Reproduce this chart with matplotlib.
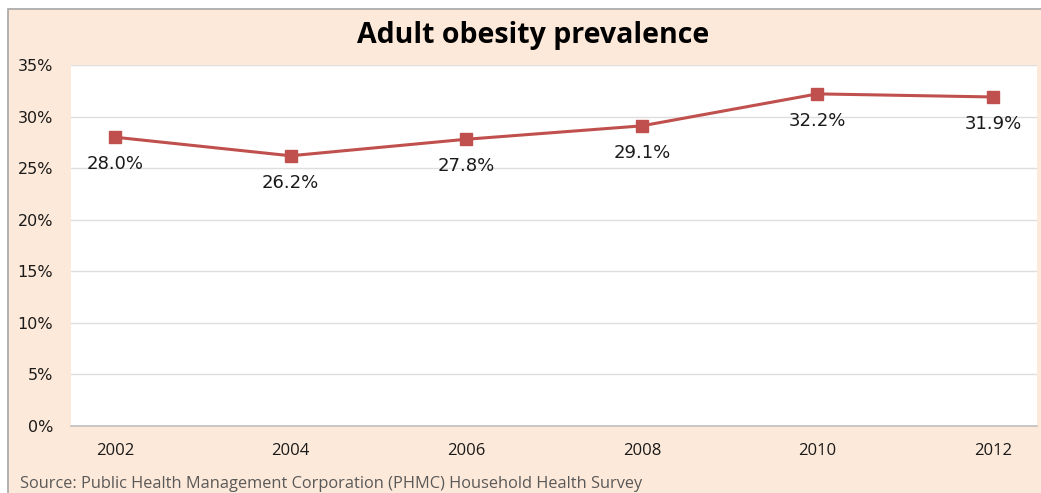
import matplotlib.pyplot as plt
from matplotlib.patches import Rectangle

# Adult obesity prevalence by survey year
years = ['2002', '2004', '2006', '2008', '2010', '2012']
prevalence = [28.0, 26.2, 27.8, 29.1, 32.2, 31.9]
y_ticks = [0, 5, 10, 15, 20, 25, 30, 35]

W, H = 1041, 493
fig = plt.figure(figsize=(W / 100, H / 100), dpi=100)
fig.patch.set_facecolor('white')

# peach chart area with a thin grey frame on the left/top
fig.patches.append(Rectangle((8 / W, -0.05), 1.1, (H - 9) / H + 0.05,
                             transform=fig.transFigure, facecolor='#FDE9D9',
                             edgecolor='#A6A6A6', linewidth=1.2, zorder=-10))

ax = fig.add_axes([71 / W, (H - 426) / H, (1037 - 71) / W, (426 - 65) / H])
ax.set_zorder(5)
ax.set_facecolor('white')

x = list(range(len(years)))
ax.plot(x, prevalence, color='#C0504D', linewidth=2.2, marker='s',
        markersize=8, markerfacecolor='#C0504D', markeredgecolor='#C0504D', zorder=3)

for xi, v in zip(x, prevalence):
    ax.annotate(f'{v:.1f}%', (xi, v), xytext=(0, -13), textcoords='offset points',
                ha='center', va='top', fontsize=13, color='#1a1a1a')

ax.set_xlim(-0.25, len(years) - 0.75)
ax.set_ylim(0, 35)
ax.set_yticks(y_ticks)
ax.set_yticklabels([f'{t}%' for t in y_ticks], fontsize=11.5, color='#1a1a1a')
ax.set_xticks(x)
ax.set_xticklabels(years, fontsize=12, family='Open Sans', color='#1a1a1a')
ax.tick_params(axis='both', length=0)
ax.tick_params(axis='y', pad=13)
ax.tick_params(axis='x', pad=12)
ax.grid(axis='y', color='#DEDEDE', linewidth=1)
ax.set_axisbelow(True)
for s in ['left', 'right', 'top']:
    ax.spines[s].set_visible(False)
ax.spines['bottom'].set_color('#BFBFBF')
ax.spines['bottom'].set_linewidth(1.2)

fig.text(533 / W, 1 - 36 / H, 'Adult obesity prevalence', ha='center', va='center',
         fontsize=20.5, fontweight='bold', family='Open Sans', color='black')
fig.text(20 / W, 1 - 484 / H, 'Source: Public Health Management Corporation (PHMC) Household Health Survey',
         ha='left', va='center', fontsize=11.8, family='Open Sans', color='#595959')

fig.savefig('out.png', dpi=100)
